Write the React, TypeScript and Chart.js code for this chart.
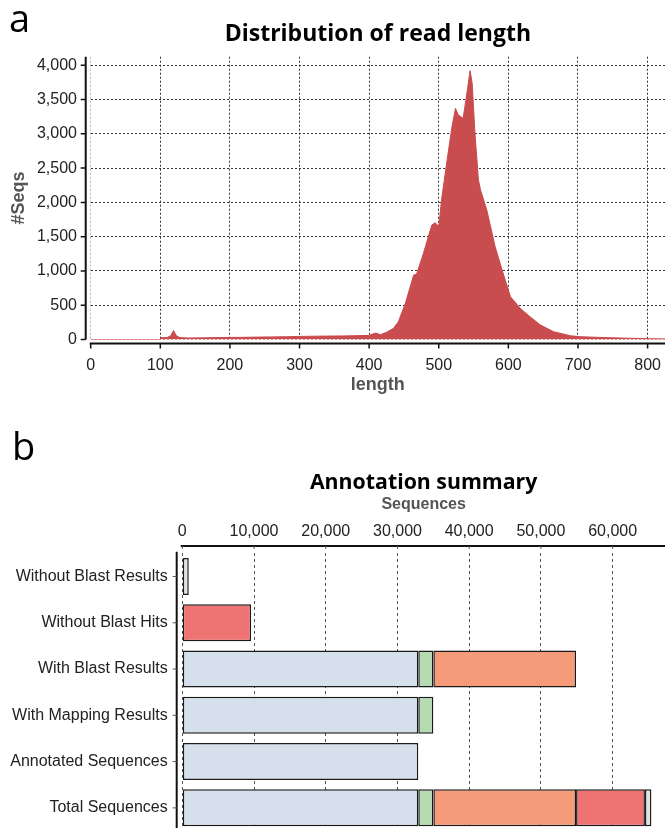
import React, { useEffect, useRef } from 'react';
import { Chart, registerables } from 'chart.js';

Chart.register(...registerables);

// ---- Chart a: distribution of read length ----
const readLengths = [0, 100, 101, 110, 115, 119, 123, 128, 140, 160, 180, 200, 220, 240, 260, 280, 300, 320, 340, 360, 380, 400, 405, 410, 416, 425, 435, 442, 452, 464, 468, 478, 490, 495, 500, 504, 512, 519, 524, 528, 535, 539, 545, 548, 552, 557, 560, 569, 581, 591, 603, 617, 631, 646, 665, 689, 703, 727, 750, 775, 800, 825];
const readCounts = [0, 0, 25, 30, 55, 130, 55, 28, 22, 24, 28, 30, 32, 35, 38, 40, 45, 48, 50, 52, 55, 60, 80, 95, 70, 105, 163, 260, 528, 941, 950, 1257, 1670, 1704, 1646, 2035, 2619, 3105, 3372, 3275, 3227, 3494, 3922, 3737, 3008, 2327, 2181, 1889, 1354, 1014, 625, 455, 333, 212, 114, 55, 41, 32, 25, 18, 12, 8];
const lengthTicks = [0, 100, 200, 300, 400, 500, 600, 700, 800];
const countTicks = [0, 500, 1000, 1500, 2000, 2500, 3000, 3500, 4000];

// ---- Chart b: annotation summary ----
const categories = ['Without Blast Results', 'Without Blast Hits', 'With Blast Results', 'With Mapping Results', 'Annotated Sequences', 'Total Sequences'];
const annotatedValues = [null, null, 32900, 32900, 32900, 32900];
const mappingValues = [null, null, 2100, 2100, null, 2100];
const blastValues = [null, null, 19900, null, null, 19900];
const noHitsValues = [null, 9600, null, null, null, 9600];
const noResultsValues = [900, null, null, null, null, 900];
const sequenceTicks = [0, 10000, 20000, 30000, 40000, 50000, 60000];

const TICK_FONT = "'Liberation Sans', Arial, Helvetica, sans-serif";
const TITLE_FONT = "'Open Sans', sans-serif";
const fmt = (v: any) => Number(v).toLocaleString('en-US');
const setTicks = (vals: number[]) => (s: any) => {
  s.ticks = vals.map((v) => ({ value: v }));
};

const axesA = {
  id: 'axesA',
  afterDraw(chart: any) {
    const { ctx, chartArea: a, scales } = chart;
    const x = scales.x, y = scales.y;
    ctx.save();
    ctx.strokeStyle = '#111';
    ctx.lineWidth = 2;
    const ax = a.left - 5;
    const ay = a.bottom + 4;
    ctx.beginPath();
    ctx.moveTo(ax, a.top);
    ctx.lineTo(ax, a.bottom);
    ctx.moveTo(a.left - 1, ay);
    ctx.lineTo(a.right, ay);
    ctx.stroke();
    ctx.lineWidth = 1.5;
    ctx.beginPath();
    y.ticks.forEach((t: any) => {
      const py = y.getPixelForValue(t.value);
      ctx.moveTo(ax, py);
      ctx.lineTo(ax - 5, py);
    });
    x.ticks.forEach((t: any) => {
      const px = x.getPixelForValue(t.value);
      ctx.moveTo(px, ay);
      ctx.lineTo(px, ay + 5);
    });
    ctx.stroke();
    ctx.restore();
  },
};

const axesB = {
  id: 'axesB',
  afterDraw(chart: any) {
    const { ctx, chartArea: a, scales } = chart;
    const x = scales.x, y = scales.y;
    ctx.save();
    ctx.strokeStyle = '#111';
    ctx.lineWidth = 2;
    const ay = a.top - 7.4;
    const ax = a.left - 5.6;
    ctx.beginPath();
    ctx.moveTo(a.left - 1.6, ay);
    ctx.lineTo(chart.width, ay);
    ctx.moveTo(ax, a.top - 1.7);
    ctx.lineTo(ax, chart.height);
    ctx.stroke();
    ctx.lineWidth = 1;
    ctx.strokeStyle = '#555';
    ctx.beginPath();
    x.ticks.forEach((t: any) => {
      const px = x.getPixelForValue(t.value);
      ctx.moveTo(px, ay);
      ctx.lineTo(px, ay + 3);
    });
    y.ticks.forEach((t: any, i: number) => {
      const py = y.getPixelForTick(i);
      ctx.moveTo(ax - 4, py);
      ctx.lineTo(ax, py);
    });
    ctx.stroke();
    ctx.restore();
  },
};

function zeroPad(s: any) {
  s.paddingTop = 0;
  s.paddingBottom = 0;
  s.paddingLeft = 0;
  s.paddingRight = 0;
}

export default function App() {
  const refA = useRef<HTMLCanvasElement>(null);
  const refB = useRef<HTMLCanvasElement>(null);

  useEffect(() => {
    document.body.style.margin = '0';
    const red = '#c94c4e';
    const chartA = new Chart(refA.current as HTMLCanvasElement, {
      type: 'line',
      data: {
        datasets: [
          {
            data: readLengths.map((x, i) => ({ x, y: readCounts[i] })),
            fill: 'origin',
            backgroundColor: red,
            borderColor: red,
            borderWidth: 1,
            pointRadius: 0,
            tension: 0,
          },
        ],
      },
      options: {
        animation: false,
        responsive: false,
        maintainAspectRatio: false,
        layout: { padding: 0 },
        plugins: {
          legend: { display: false },
          tooltip: { enabled: false },
          title: {
            display: true,
            text: 'Distribution of read length',
            fullSize: false,
            color: '#000',
            font: { family: TITLE_FONT, size: 23, weight: 'bold' },
            padding: { top: 21, bottom: 8.1 },
          },
        },
        scales: {
          x: {
            type: 'linear',
            min: 0,
            max: 825,
            afterBuildTicks: setTicks(lengthTicks),
            ticks: {
              padding: 16.9,
              autoSkip: false,
              maxRotation: 0,
              color: '#222',
              font: { family: TICK_FONT, size: 16 },
              callback: fmt,
            },
            grid: {
              drawTicks: false,
              lineWidth: 1,
              color: (c: any) => (c.tick && c.tick.value === 0 ? '#b8b8b8' : '#333'),
            },
            border: { display: false, dash: [2, 2] },
            title: {
              display: true,
              text: 'length',
              color: '#555',
              font: { family: TICK_FONT, size: 18, weight: 'bold' },
              padding: { top: 0, bottom: 3.8 },
            },
            afterFit: (s: any) => {
              s.height = 60.5;
              zeroPad(s);
            },
          },
          y: {
            min: 0,
            max: 4125,
            afterBuildTicks: setTicks(countTicks),
            ticks: {
              padding: 13.7,
              color: '#222',
              font: { family: TICK_FONT, size: 16 },
              callback: fmt,
            },
            grid: {
              drawTicks: false,
              lineWidth: 1,
              color: (c: any) => (c.tick && c.tick.value === 0 ? '#e8a3a3' : '#333'),
            },
            border: { display: false, dash: [2, 2] },
            title: {
              display: true,
              text: '#Seqs',
              color: '#555',
              font: { family: TICK_FONT, size: 18, weight: 'bold' },
              padding: { top: 8, bottom: 0 },
            },
            afterFit: (s: any) => {
              s.width = 90.7;
              zeroPad(s);
            },
          },
        },
      } as any,
      plugins: [axesA],
    });

    const mk = (label: string, data: any[], color: string) => ({
      label,
      data,
      backgroundColor: color,
      borderColor: '#1a1a1a',
      borderWidth: 1.5,
      borderSkipped: false,
      categoryPercentage: 1,
      barPercentage: 0.8,
    });

    const chartB = new Chart(refB.current as HTMLCanvasElement, {
      type: 'bar',
      data: {
        labels: categories,
        datasets: [
          mk('Annotated', annotatedValues, '#d6e0ec'),
          mk('Mapping', mappingValues, '#b6dbb3'),
          mk('Blast', blastValues, '#f59b79'),
          mk('Without Blast Hits', noHitsValues, '#f07374'),
          mk('Without Blast Results', noResultsValues, '#e2e2e2'),
        ],
      },
      options: {
        indexAxis: 'y',
        animation: false,
        responsive: false,
        maintainAspectRatio: false,
        layout: { padding: 0 },
        plugins: {
          legend: { display: false },
          tooltip: { enabled: false },
          title: {
            display: true,
            text: 'Annotation summary',
            fullSize: false,
            color: '#000',
            font: { family: TITLE_FONT, size: 21.3, weight: 'bold' },
            padding: { top: 69.8, bottom: 0 },
          },
        },
        scales: {
          x: {
            type: 'linear',
            position: 'top',
            stacked: true,
            min: 0,
            max: 67300,
            afterBuildTicks: setTicks(sequenceTicks),
            ticks: {
              padding: 12.1,
              autoSkip: false,
              maxRotation: 0,
              color: '#222',
              font: { family: TICK_FONT, size: 16 },
              callback: fmt,
            },
            grid: { drawTicks: false, lineWidth: 1, color: '#555' },
            border: { display: false, dash: [3, 3] },
            title: {
              display: true,
              text: 'Sequences',
              color: '#555',
              font: { family: TICK_FONT, size: 16, weight: 'bold' },
              padding: { top: 0, bottom: 0 },
            },
            afterFit: (s: any) => {
              s.height = 58;
              zeroPad(s);
            },
          },
          y: {
            stacked: true,
            ticks: {
              padding: 14.6,
              color: '#222',
              font: { family: TICK_FONT, size: 16 },
            },
            grid: { display: false, drawTicks: false },
            border: { display: false },
            afterFit: (s: any) => {
              s.width = 182.3;
              zeroPad(s);
            },
          },
        },
      } as any,
      plugins: [axesB],
    });

    return () => {
      chartA.destroy();
      chartB.destroy();
    };
  }, []);

  const letter: React.CSSProperties = {
    position: 'absolute',
    fontFamily: TITLE_FONT,
    fontSize: 38,
    lineHeight: 1,
    color: '#000',
  };

  return (
    <div style={{ position: 'absolute', left: 0, top: 0, width: 665, height: 828, overflow: 'hidden', background: '#fff' }}>
      <canvas ref={refA} width={665} height={400} style={{ position: 'absolute', left: 0, top: 0, width: 665, height: 400 }} />
      <canvas ref={refB} width={665} height={431} style={{ position: 'absolute', left: 0, top: 400, width: 665, height: 431 }} />
      <div style={{ ...letter, left: 9, top: -2 }}>a</div>
      <div style={{ ...letter, left: 12, top: 426 }}>b</div>
    </div>
  );
}
